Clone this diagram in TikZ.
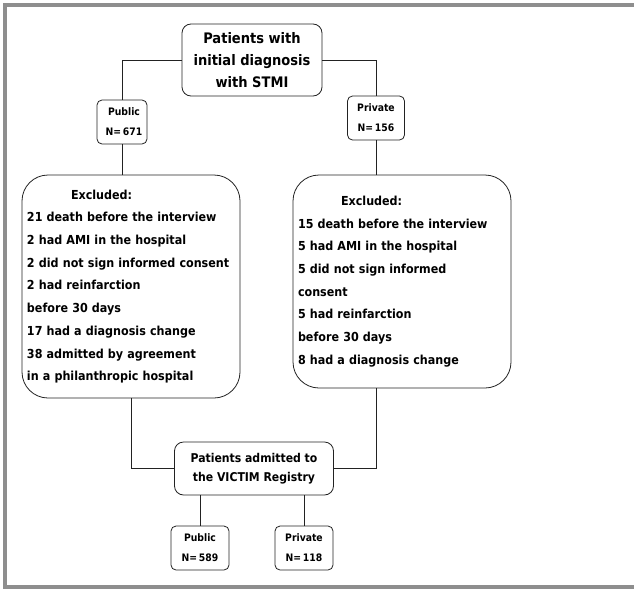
\documentclass[tikz,border=0pt]{standalone}
\usepackage{fontspec}
\setmainfont{DejaVu Sans Condensed}
\usepackage{tikz}
\usetikzlibrary{calc}
\definecolor{ink}{HTML}{222222}
\definecolor{rim}{HTML}{8E8E8E}
\tikzset{
  box/.style={draw=ink, line width=0.8pt, rounded corners=9pt, align=center, inner sep=3pt,
    font=\bfseries\fontsize{12.4}{22.7}\selectfont},
  smallbox/.style={box, rounded corners=5pt, minimum height=44pt, font=\bfseries\fontsize{10.3}{20}\selectfont},
  exclbox/.style={box, rounded corners=26pt, align=left, text width=208pt, inner xsep=5pt},
  conn/.style={draw=ink, line width=0.7pt},
  rimline/.style={draw=rim, line width=4pt},
}
\begin{document}
\begin{tikzpicture}[x=1pt, y=-1pt]
  \useasboundingbox (0,0) rectangle (634,589);
  \draw[rimline] (640,4.5) -- (5,4.5) -- (5,587) -- (640,587);
  % top of the flow
  \node[box, minimum width=140pt, minimum height=72pt, font=\bfseries\fontsize{14.5}{22}\selectfont] (start) at (252,60)
    {Patients with\\initial diagnosis\\with STMI};
  \node[smallbox, minimum width=50pt] (pubin) at (122,122) {\hspace*{4pt}Public\\\hspace*{4pt}N=\,671};
  \node[smallbox, minimum width=57pt] (privin) at (376,118) {Private\\N=\,156};
  % exclusions
  \node[exclbox, minimum height=223pt] (exlpub) at (131,286.5)
    {\hspace*{44pt}Excluded:\\21 death before the interview\\2 had AMI in the hospital\\2 did not sign informed consent\\2 had reinfarction\\before 30 days\\17 had a diagnosis change\\38 admitted by agreement\\in a philanthropic hospital};
  \node[exclbox, minimum height=213pt] (exlpriv) at (402,281.5)
    {\hspace*{43pt}Excluded:\\15 death before the interview\\5 had AMI in the hospital\\5 did not sign informed\\consent\\5 had reinfarction\\before 30 days\\8 had a diagnosis change};
  % registry
  \node[box, minimum width=159pt, minimum height=53pt, font=\bfseries\fontsize{12.1}{19.5}\selectfont] (registry) at (254,468.5)
    {Patients admitted to\\the VICTIM Registry};
  \node[smallbox, minimum width=58pt] (pubout) at (200,548) {Public\\N=\,589};
  \node[smallbox, minimum width=58pt] (privout) at (304,548) {Private\\N=\,118};
  % connectors
  \draw[conn] (start.west) -| (pubin.north);
  \draw[conn] (start.east) -| (privin.north);
  \draw[conn] (pubin.south) -- (pubin.south |- exlpub.north);
  \draw[conn] (privin.south) -- (privin.south |- exlpriv.north);
  \draw[conn] (exlpub.south) |- (registry.west);
  \draw[conn] (privin.south |- exlpriv.south) |- (registry.east);
  \draw[conn] (registry.south -| pubout) -- (pubout.north);
  \draw[conn] (registry.south -| privout) -- (privout.north);
\end{tikzpicture}
\end{document}
